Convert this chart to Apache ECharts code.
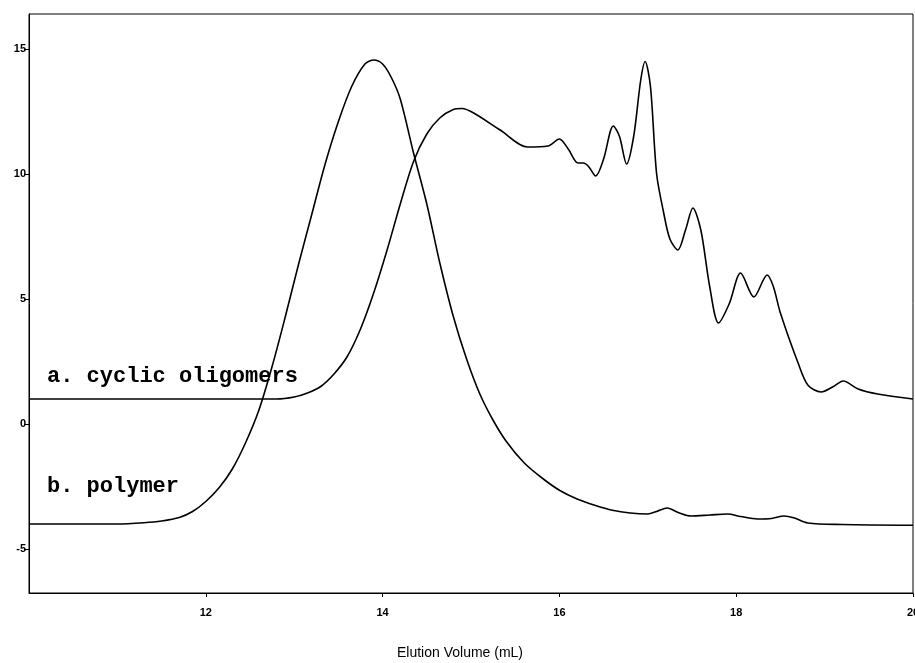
<!DOCTYPE html>
<html>
<head>
<meta charset="utf-8">
<script src="https://cdn.jsdelivr.net/npm/echarts@6/dist/echarts.min.js"></script>
<style>
  html, body { margin: 0; padding: 0; background: #fff; }
  #chart { width: 915px; height: 663px; }
</style>
</head>
<body>
<div id="chart"></div>
<script>
// elution volume (mL) / detector response
const polymerX = [10.0, 11.0, 11.3, 11.5, 11.7, 11.85, 12.0, 12.15, 12.3, 12.45, 12.6, 12.75, 12.9, 13.05, 13.2, 13.35, 13.5, 13.65, 13.8, 13.9, 14.0, 14.1, 14.2, 14.35, 14.5, 14.65, 14.8, 14.95, 15.1, 15.25, 15.4, 15.6, 15.8, 16.0, 16.2, 16.4, 16.6, 16.8, 17.0, 17.1, 17.22, 17.35, 17.49, 17.7, 17.9, 18.05, 18.24, 18.4, 18.54, 18.65, 18.81, 19.2, 20.0];
const polymerY = [-4.0, -4.0, -3.95, -3.88, -3.74, -3.5, -3.1, -2.55, -1.8, -0.75, 0.55, 2.3, 4.3, 6.4, 8.4, 10.4, 12.1, 13.5, 14.4, 14.56, 14.4, 13.85, 13.0, 10.84, 8.8, 6.4, 4.3, 2.6, 1.2, 0.15, -0.7, -1.55, -2.15, -2.65, -3.0, -3.25, -3.45, -3.56, -3.6, -3.5, -3.36, -3.55, -3.68, -3.64, -3.6, -3.7, -3.8, -3.78, -3.68, -3.75, -3.96, -4.02, -4.05];

const cyclicX = [10.0, 12.8, 13.0, 13.15, 13.3, 13.45, 13.6, 13.75, 13.9, 14.05, 14.2, 14.35, 14.5, 14.65, 14.8, 14.9, 15.03, 15.33, 15.64, 15.87, 16.0, 16.1, 16.21, 16.27, 16.33, 16.41, 16.5, 16.61, 16.68, 16.76, 16.84, 16.92, 16.97, 17.03, 17.1, 17.18, 17.25, 17.34, 17.43, 17.51, 17.6, 17.7, 17.8, 17.92, 18.05, 18.2, 18.35, 18.42, 18.5, 18.7, 18.81, 18.96, 19.1, 19.21, 19.38, 19.6, 20.0];
const cyclicY = [1.0, 1.0, 1.08, 1.24, 1.5, 2.0, 2.7, 3.8, 5.25, 6.95, 8.8, 10.5, 11.6, 12.25, 12.58, 12.62, 12.44, 11.76, 11.08, 11.12, 11.4, 11.0, 10.44, 10.44, 10.3, 9.92, 10.6, 11.92, 11.5, 10.4, 11.5, 13.76, 14.5, 13.5, 10.0, 8.44, 7.4, 6.96, 7.8, 8.64, 7.76, 5.5, 4.04, 4.8, 6.04, 5.08, 5.96, 5.5, 4.44, 2.44, 1.56, 1.28, 1.5, 1.72, 1.4, 1.2, 1.0];

const xTicks = [12, 14, 16, 18, 20];
const yTicks = [-5, 0, 5, 10, 15];
const traceLabels = ["a. cyclic oligomers", "b. polymer"];

let pairs = (xs, ys) => xs.map((x, i) => [x, ys[i]]);

let myEchart = echarts.init(document.getElementById("chart"));

let tickFont = {
  color: "#000",
  fontFamily: "'Liberation Sans Narrow', 'Arial Narrow', 'Liberation Sans', sans-serif",
  fontSize: 11,
  fontWeight: "bold",
};

let options = {
  animation: false,
  backgroundColor: "#fff",
  grid: {
    left: 29, right: 2, top: 14, bottom: 70,
    outerBoundsMode: "none",
    containLabel: false,
    show: true,
    borderColor: "#000",
    borderWidth: 1,
  },
  xAxis: {
    type: "value",
    min: 10,
    max: 20,
    name: "Elution Volume (mL)",
    nameLocation: "middle",
    nameGap: 53,
    nameTextStyle: {
      color: "#000",
      fontFamily: "'Liberation Sans', Arial, sans-serif",
      fontSize: 14,
      padding: [0, 22, 0, 0],
    },
    axisLine: { show: true, onZero: false, lineStyle: { color: "#000", width: 1 } },
    axisTick: { show: true, length: 4, customValues: xTicks, lineStyle: { color: "#000" } },
    axisLabel: Object.assign({ customValues: xTicks, margin: 14 }, tickFont),
    splitLine: { show: false },
  },
  yAxis: {
    type: "value",
    min: -6.76,
    max: 16.4,
    axisLine: { show: true, onZero: false, lineStyle: { color: "#000", width: 1 } },
    axisTick: { show: true, length: 5, customValues: yTicks, lineStyle: { color: "#000" } },
    axisLabel: Object.assign({ customValues: yTicks, margin: 3 }, tickFont),
    splitLine: { show: false },
  },
  series: [
    {
      name: traceLabels[0],
      type: "line",
      data: pairs(cyclicX, cyclicY),
      smooth: 0.3,
      symbol: "none",
      lineStyle: { color: "#000", width: 1.6 },
    },
    {
      name: traceLabels[1],
      type: "line",
      data: pairs(polymerX, polymerY),
      smooth: 0.3,
      symbol: "none",
      lineStyle: { color: "#000", width: 1.6 },
    },
  ],
  graphic: [
    {
      type: "text",
      left: 47,
      top: 365,
      style: {
        text: traceLabels[0],
        fill: "#000",
        font: "bold 22px 'Liberation Mono', 'Courier New', monospace",
      },
    },
    {
      type: "text",
      left: 47,
      top: 475,
      style: {
        text: traceLabels[1],
        fill: "#000",
        font: "bold 22px 'Liberation Mono', 'Courier New', monospace",
      },
    },
  ],
};

myEchart.setOption(options);
</script>
</body>
</html>
